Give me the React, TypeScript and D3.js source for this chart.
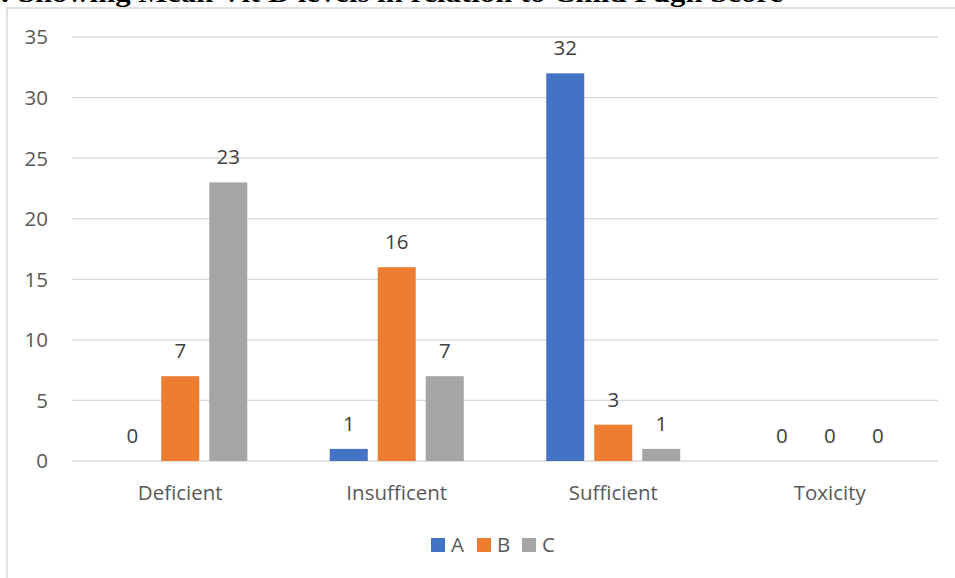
import React from "react";
import * as d3 from "d3";

const categories = ["Deficient", "Insufficent", "Sufficient", "Toxicity"];
const seriesNames = ["A", "B", "C"];
const valuesA = [0, 1, 32, 0];
const valuesB = [7, 16, 3, 0];
const valuesC = [23, 7, 1, 0];
const yTicks = [0, 5, 10, 15, 20, 25, 30, 35];
const colors = ["#4472C4", "#ED7D31", "#A5A5A5"];
const title = ": Showing Mean Vit D levels in relation to Child Pugh Score";

export default function App() {
  const W = 955, H = 578;
  const left = 72, right = 938, top = 37, bottom = 461;
  const font = "'Open Sans', sans-serif";
  const fs = 20.5;
  const series = [valuesA, valuesB, valuesC];

  const x = d3.scaleBand<string>().domain(categories).range([left, right]).paddingInner(0).paddingOuter(0);
  const y = d3.scaleLinear().domain([0, 35]).range([bottom, top]);
  const barW = 38, gap = 10;
  const groupW = barW * 3 + gap * 2;

  const legendX = [431, 477, 522];

  return (
    <svg width={W} height={H} style={{ position: "absolute", left: 0, top: 0 }}>
      <rect x={0} y={0} width={W} height={H} fill="#fff" />
      <text x={0} y={2} fontFamily="'Liberation Serif', 'Times New Roman', serif" fontWeight="bold" fontSize={26} fill="#000" textLength={783} lengthAdjust="spacingAndGlyphs">{title}</text>
      <rect x={7} y={8} width={960} height={600} fill="none" stroke="#D9D9D9" strokeWidth={1.5} />
      {yTicks.map((t) => (
        <g key={t}>
          <line x1={left} x2={right} y1={y(t)} y2={y(t)} stroke="#D9D9D9" strokeWidth={1.3} />
          <text x={48} y={y(t)} dy="0.36em" textAnchor="end" fontFamily={font} fontSize={fs} fill="#595959">{t}</text>
        </g>
      ))}
      {categories.map((c, ci) => {
        const cx = (x(c) as number) + x.bandwidth() / 2;
        const x0 = cx - groupW / 2;
        return (
          <g key={c}>
            {series.map((s, si) => {
              const bx = x0 + si * (barW + gap);
              const v = s[ci];
              return (
                <g key={si}>
                  {v > 0 && <rect x={bx} y={y(v)} width={barW} height={y(0) - y(v)} fill={colors[si]} />}
                  <text x={bx + barW / 2} y={y(v) - 18} textAnchor="middle" fontFamily={font} fontSize={fs} fill="#404040">{v}</text>
                </g>
              );
            })}
            <text x={cx} y={500} textAnchor="middle" fontFamily={font} fontSize={fs} fill="#595959">{c}</text>
          </g>
        );
      })}
      {seriesNames.map((n, i) => (
        <g key={n}>
          <rect x={legendX[i]} y={538} width={14} height={14} fill={colors[i]} />
          <text x={legendX[i] + 20} y={552} fontFamily={font} fontSize={fs} fill="#595959">{n}</text>
        </g>
      ))}
    </svg>
  );
}
